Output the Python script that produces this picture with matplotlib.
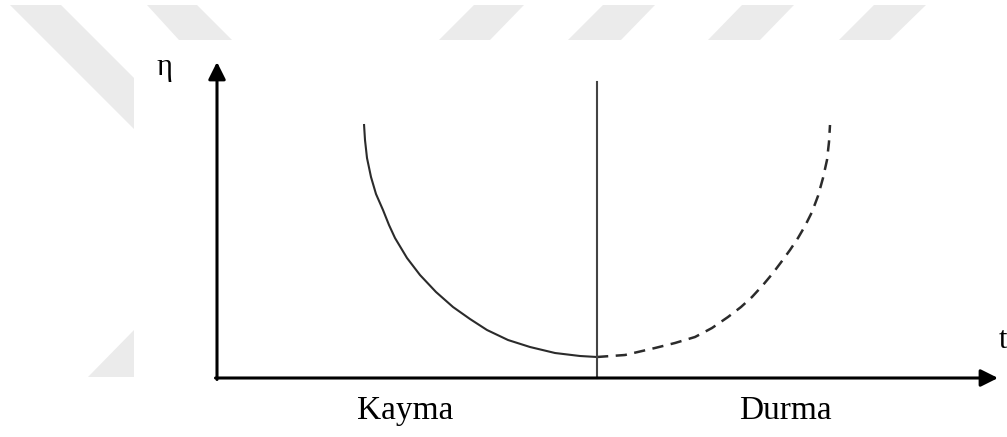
import matplotlib
matplotlib.use("Agg")
import matplotlib.pyplot as plt
from matplotlib.patches import Polygon

# Data (origin at the axes corner, units ~ pixels)
kayma_t = [147, 148, 150, 154, 159, 166, 172, 178, 190, 203, 219, 236, 253,
           270, 291, 313, 338, 363, 380]
kayma_eta = [254, 238, 220, 201, 184, 168, 153, 140, 120, 103, 86, 71, 59,
             48, 38, 31, 25, 22, 21]

durma_t = [380, 408, 438, 458, 478, 495, 511, 524, 535, 546, 556, 565, 573,
           581, 588, 595, 601, 606, 610, 612, 613]
durma_eta = [21, 23, 30, 35, 41, 50, 61, 71, 81, 93, 105, 117, 128,
             140, 152, 166, 182, 200, 218, 236, 253]

boundary_t = 380
boundary_top = 296

t_max = 781
eta_max = 316

region_labels = ["Kayma", "Durma"]
region_pos = [188, 568]

# Light watermark stripes in the background (pixel coordinates of the image)
watermark = [
    [(10, 5), (61, 5), (134, 78), (134, 129)],
    [(147, 5), (197, 5), (232, 40), (179, 40)],
    [(474, 5), (524, 5), (490, 40), (439, 40)],
    [(603, 5), (655, 5), (621, 40), (568, 40)],
    [(742, 5), (794, 5), (760, 40), (708, 40)],
    [(874, 5), (926, 5), (890, 40), (839, 40)],
    [(88, 377), (134, 330), (134, 377)],
]

plt.rcParams['font.family'] = ['Liberation Serif', 'DejaVu Serif']

fig = plt.figure(figsize=(10.07, 4.37), dpi=100)
bg = fig.add_axes([0, 0, 1, 1])
bg.set_xlim(0, 1007)
bg.set_ylim(437, 0)
bg.axis('off')
for poly in watermark:
    bg.add_patch(Polygon(poly, closed=True, facecolor='#ebebeb', edgecolor='none'))

ax = fig.add_axes([0, 0, 1, 1])
ax.patch.set_alpha(0)
ax.set_xlim(-217, 790)
ax.set_ylim(-59, 378)
ax.axis('off')

# axes with arrows
arrow = dict(arrowstyle='-|>', lw=2.2, color='black', mutation_scale=26,
             shrinkA=0, shrinkB=0)
ax.annotate('', xy=(0, eta_max), xytext=(0, -1.5), arrowprops=arrow)
ax.annotate('', xy=(t_max, 0), xytext=(-1.5, 0), arrowprops=arrow)

ax.plot(kayma_t, kayma_eta, color='#2b2b2b', lw=1.5, solid_capstyle='butt',
        solid_joinstyle='round')
ax.plot(durma_t, durma_eta, color='#2b2b2b', lw=1.8, linestyle=(0, (4.5, 3)))
ax.plot([boundary_t, boundary_t], [0, boundary_top], color='#444444', lw=1.5)

ax.text(-53, 310, 'η', fontsize=22, ha='center', va='center')
ax.text(786, 38, 't', fontsize=22, ha='center', va='center')
for lab, x in zip(region_labels, region_pos):
    ax.text(x, -33, lab, fontsize=24, ha='center', va='center')

fig.savefig('out.png', dpi=100)
